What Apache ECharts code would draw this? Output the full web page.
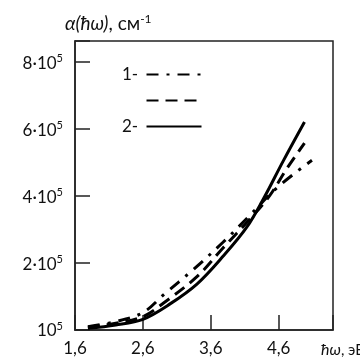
<!DOCTYPE html>
<html><head><meta charset="utf-8">
<script src="https://cdn.jsdelivr.net/npm/echarts@6/dist/echarts.min.js"></script>
<style>html,body{margin:0;padding:0;background:#fff}#c{width:360px;height:360px}</style>
</head><body><div id="c"></div>
<script>
// values in units of 1e5 cm^-1, photon energy in eV
const curve1X = [1.79, 2.2, 2.6, 2.92, 3.34, 3.78, 4.14, 4.57, 5.09];
const curve1Y = [0.10, 0.25, 0.52, 1.08, 1.8, 2.62, 3.35, 4.24, 5.07];
const curveDX = [1.79, 2.2, 2.6, 2.9, 3.4, 3.78, 4.17, 4.47, 4.72, 4.98];
const curveDY = [0.08, 0.2, 0.4, 0.8, 1.6, 2.45, 3.3, 4.02, 4.82, 5.58];
const curve2X = [1.79, 2.2, 2.6, 3.0, 3.4, 3.78, 4.13, 4.39, 4.66, 4.98];
const curve2Y = [0.05, 0.15, 0.32, 0.78, 1.38, 2.2, 3.07, 3.97, 5.02, 6.21];
const xTicks = [1.6, 2.6, 3.6, 4.6];
const xTickLabels = ['1,6', '2,6', '3,6', '4,6'];
const yTicks = [0, 2, 4, 6, 8];
const yTickLabels = ['{b|10}{s|5}', '{b|2·10}{s|5}', '{b|4·10}{s|5}', '{b|6·10}{s|5}', '{b|8·10}{s|5}'];
const seriesNames = ['1-', '3', '2-'];

const FONT = 'Lato';
const pair = (xs, ys) => xs.map((x, i) => [x, ys[i]]);
const rich = {
  b: {fontFamily: FONT, fontSize: 17, color: '#111', verticalAlign: 'bottom'},
  s: {fontFamily: FONT, fontSize: 11, color: '#111', verticalAlign: 'bottom', padding: [0, 0, 8, 0]}
};
const chart = echarts.init(document.getElementById('c'), null, {renderer: 'canvas'});
chart.setOption({
  animation: false,
  backgroundColor: '#fff',
  title: {
    text: '{i|α(ħω)}{n|, см}{s|-1}',
    left: 60, top: 8,
    textStyle: {
      fontWeight: 'normal',
      rich: {
        i: {fontFamily: FONT, fontSize: 19, fontStyle: 'italic', fontWeight: 'normal', color: '#111', verticalAlign: 'bottom'},
        n: {fontFamily: FONT, fontSize: 19, fontWeight: 'normal', color: '#111', verticalAlign: 'bottom'},
        s: {fontFamily: FONT, fontSize: 12, fontWeight: 'normal', color: '#111', verticalAlign: 'bottom', padding: [0, 0, 8, 0]}
      }
    }
  },
  grid: {left: 75, top: 41, right: 27, bottom: 30, containLabel: false, outerBoundsMode: 'none',
    show: true, borderColor: '#222', borderWidth: 1.5, backgroundColor: 'transparent'},
  legend: {
    orient: 'vertical', left: 117, top: 61, itemWidth: 55, itemHeight: 14, itemGap: 9,
    align: 'right', data: seriesNames,
    itemStyle: {opacity: 0},
    formatter: n => n === '3' ? '{h|1-} ' : '{t|' + n + '} ',
    textStyle: {rich: {
      t: {fontFamily: FONT, fontSize: 17, color: '#111'},
      h: {fontFamily: FONT, fontSize: 17, color: 'rgba(0,0,0,0)'}
    }}
  },
  xAxis: {
    type: 'value', min: 1.6, max: 5.4, interval: 1,
    name: '{i|ħω}{n|, эВ}', nameLocation: 'end', nameGap: -12,
    nameTextStyle: {verticalAlign: 'top', align: 'left', padding: [12, 0, 0, 0],
      rich: {
        i: {fontFamily: FONT, fontSize: 16, fontStyle: 'italic', color: '#111'},
        n: {fontFamily: FONT, fontSize: 15, color: '#111'}
      }},
    axisLine: {lineStyle: {color: '#222', width: 1.5}},
    axisTick: {inside: true, length: 15, lineStyle: {color: '#222', width: 1.5}},
    axisLabel: {
      margin: 10, fontFamily: FONT, fontSize: 17, color: '#111',
      formatter: v => { const i = xTicks.findIndex(t => Math.abs(t - v) < 1e-6); return i >= 0 ? xTickLabels[i] : ''; }
    },
    splitLine: {show: false}
  },
  yAxis: {
    type: 'value', min: 0, max: 8.63, interval: 2,
    axisLine: {show: true, lineStyle: {color: '#222', width: 1.5}},
    axisTick: {show: true, inside: true, length: 15, lineStyle: {color: '#222', width: 1.5}},
    axisLabel: {
      margin: 12,
      formatter: v => { const i = yTicks.findIndex(t => Math.abs(t - v) < 1e-6); return i >= 0 ? yTickLabels[i] : ''; },
      rich: rich
    },
    splitLine: {show: false}
  },
  series: [
    {name: seriesNames[0], type: 'line', data: pair(curve1X, curve1Y), smooth: 0.35, symbol: 'none',
     lineStyle: {color: '#000', width: 3, type: [12, 8, 3, 8]}, itemStyle: {color: '#000'}},
    {name: seriesNames[1], type: 'line', data: pair(curveDX, curveDY), smooth: 0.35, symbol: 'none',
     lineStyle: {color: '#000', width: 3, type: [12, 7]}, itemStyle: {color: '#000'}},
    {name: seriesNames[2], type: 'line', data: pair(curve2X, curve2Y), smooth: 0.35, symbol: 'none',
     lineStyle: {color: '#000', width: 3, type: 'solid'}, itemStyle: {color: '#000'}}
  ]
});
</script></body></html>
